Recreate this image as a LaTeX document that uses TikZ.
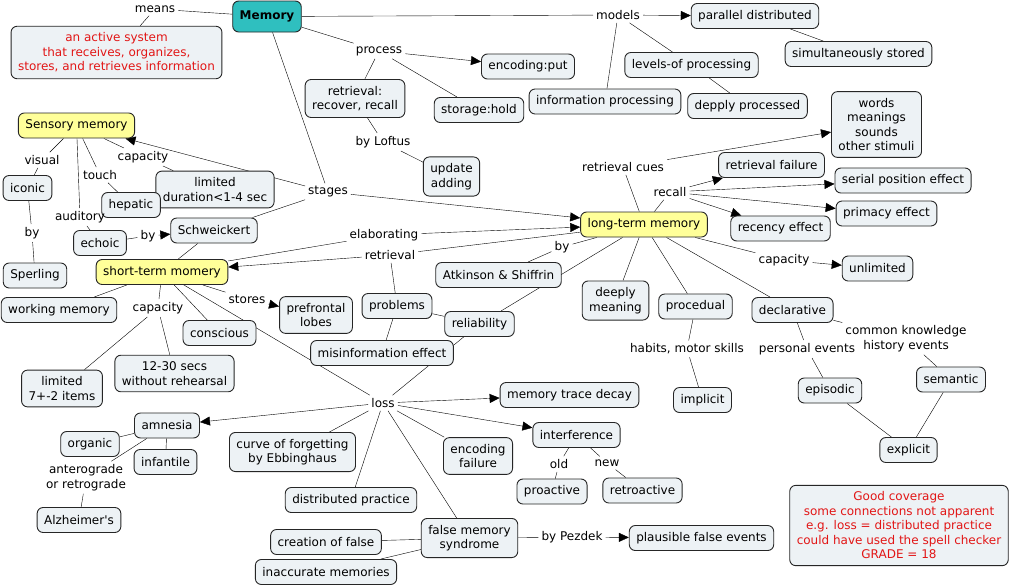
\documentclass[tikz,border=0pt]{standalone}
\usepackage{fontspec}
\setmainfont{DejaVu Sans}
\usepackage{tikz}
\usetikzlibrary{arrows.meta,backgrounds}
\definecolor{boxfill}{RGB}{237,242,245}
\definecolor{memteal}{RGB}{47,191,191}
\definecolor{stageyellow}{RGB}{255,255,153}
\definecolor{notered}{RGB}{226,22,22}

\begin{document}
\begin{tikzpicture}[x=1pt,y=-1pt,
  every node/.style={font=\fontsize{12}{14.5}\selectfont},
  cpt/.style={draw=black!85, line width=0.9pt, rounded corners=6pt, fill=boxfill,
    align=center, inner xsep=7pt, inner ysep=6.5pt, minimum height=25pt},
  yel/.style={cpt, fill=stageyellow},
  lnk/.style={inner sep=3pt, align=center},
  arr/.style={-{Triangle[length=10pt,width=9pt]}}]
\useasboundingbox (0,0) rectangle (1014,587);

% Memory and what it means
\node[cpt, fill=memteal, minimum height=31pt, font=\fontsize{12}{14.5}\selectfont\bfseries] (mem) at (267,16.5) {Memory};
\node[cpt, text=notered] (act) at (116.5,52.5) {an active system\\that receives, organizes,\\stores, and retrieves information};
\node[lnk] (means) at (155,9) {means};

% models
\node[lnk] (models) at (618,15) {models};
\node[cpt] (par) at (755,16) {parallel distributed};
\node[cpt] (sim) at (858.5,54) {simultaneously stored};
\node[cpt] (lev) at (691.5,65) {levels-of processing};
\node[cpt] (inf) at (605,101.5) {information processing};
\node[cpt] (dep) at (747.5,106) {depply processed};

% process
\node[lnk] (process) at (379,51) {process};
\node[cpt] (enc) at (528,66.5) {encoding:put};
\node[cpt] (sto) at (479,110) {storage:hold};
\node[cpt] (ret) at (355,98.5) {retrieval:\\recover, recall};
\node[lnk] (byloftus) at (383,142) {by Loftus};
\node[cpt] (upd) at (451.5,176.5) {update\\adding};

% stages
\node[lnk] (stages) at (328,192) {stages};

% Sensory memory
\node[yel] (sen) at (76.5,125.5) {Sensory memory};
\node[lnk] (visual) at (42,160) {visual};
\node[lnk] (touch) at (100,175) {touch};
\node[lnk] (capsen) at (143,157) {capacity};
\node[cpt] (ico) at (27.5,188) {iconic};
\node[cpt] (lim) at (215,189.5) {limited\\duration<1-4 sec};
\node[cpt] (hep) at (131,205) {hepatic};
\node[lnk] (aud) at (80,217) {auditory};
\node[cpt] (ech) at (100,243) {echoic};
\node[lnk] (byech) at (148,236) {by};
\node[cpt] (sch) at (214,230.5) {Schweickert};
\node[lnk] (byico) at (32,233) {by};
\node[cpt] (spe) at (35,275.5) {Sperling};

% short-term memory
\node[yel] (stm) at (162,272) {short-term momery};
\node[cpt] (wor) at (59,310) {working memory};
\node[lnk] (capstm) at (158,308) {capacity};
\node[cpt] (con) at (219.5,333) {conscious};
\node[lnk] (stores) at (247,299) {stores};
\node[cpt] (pre) at (316,315) {prefrontal\\lobes};
\node[cpt] (sev) at (62,388.5) {limited\\7+-2 items};
\node[cpt] (twe) at (174.5,373.5) {12-30 secs\\without rehearsal};
\node[lnk] (elab) at (384,235) {elaborating};
\node[lnk] (retl) at (390,255) {retrieval};
\node[cpt] (pro) at (397,306) {problems};
\node[cpt] (rel) at (479.5,324) {reliability};
\node[cpt] (mis) at (382,353) {misinformation effect};

% long-term memory
\node[yel] (ltm) at (644,224.5) {long-term memory};
\node[lnk] (byatk) at (562,247) {by};
\node[cpt] (atk) at (498.5,275) {Atkinson \& Shiffrin};
\node[lnk] (cues) at (623,167) {retrieval cues};
\node[cpt] (wds) at (876.5,124.5) {words\\meanings\\sounds\\other stimuli};
\node[lnk] (recall) at (670,192) {recall};
\node[cpt] (rf) at (771.5,165) {retrieval failure};
\node[cpt] (ser) at (903,180.5) {serial position effect};
\node[cpt] (pri) at (886.5,213.5) {primacy effect};
\node[cpt] (rec) at (780.5,228.5) {recency effect};
\node[lnk] (capltm) at (784,260) {capacity};
\node[cpt] (unl) at (877.5,268.5) {unlimited};
\node[cpt] (dee) at (615.5,300.5) {deeply\\meaning};
\node[cpt] (prc) at (695.5,306.5) {procedual};
\node[cpt] (dec) at (792.5,310) {declarative};
\node[lnk] (habits) at (687,349) {habits, motor skills};
\node[cpt] (imp) at (702.5,400) {implicit};
\node[lnk] (pers) at (807,349) {personal events};
\node[lnk] (comm) at (906,338.5) {common knowledge\\history events};
\node[cpt] (epi) at (830,390.5) {episodic};
\node[cpt] (sem) at (951,379.5) {semantic};
\node[cpt] (exp) at (908.5,450) {explicit};

% loss
\node[lnk] (loss) at (383,403) {loss};
\node[cpt] (mtd) at (569.5,395) {memory trace decay};
\node[cpt] (itf) at (576.5,435) {interference};
\node[cpt] (ef) at (478,456) {encoding\\failure};
\node[lnk] (old) at (559,464) {old};
\node[lnk] (new) at (607,463) {new};
\node[cpt] (prv) at (552,491.5) {proactive};
\node[cpt] (rtv) at (642.5,490.5) {retroactive};
\node[cpt] (amn) at (167,425.5) {amnesia};
\node[cpt] (org) at (90,444) {organic};
\node[cpt] (inft) at (165.5,462) {infantile};
\node[lnk] (ante) at (86,477.5) {anterograde\\or retrograde};
\node[cpt] (alz) at (79,520) {Alzheimer\textquotesingle s};
\node[cpt] (cur) at (292.5,452) {curve of forgetting\\by Ebbinghaus};
\node[cpt] (dis) at (351,500) {distributed practice};
\node[cpt] (fms) at (469.5,538) {false memory\\syndrome};
\node[lnk] (bypez) at (572,537) {by Pezdek};
\node[cpt] (pla) at (701.5,538) {plausible false events};
\node[cpt] (cre) at (326,542) {creation of false};
\node[cpt] (ina) at (326,572) {inaccurate memories};

% grading note
\node[cpt, text=notered] (note) at (899,525.5) {Good coverage\\some connections not apparent\\e.g. loss = distributed practice\\could have used the spell checker\\GRADE = 18};

% connections, under the boxes
\begin{scope}[on background layer, line width=0.8pt]
\fill[white] (0,0) rectangle (1014,587);
\draw (mem) -- (means); \draw (means) -- (act);
\draw (mem) -- (models); \draw[arr] (models) -- (par);
\draw (models) -- (lev); \draw (models) -- (inf);
\draw (par) -- (sim); \draw (lev) -- (dep);
\draw (mem) -- (process); \draw[arr] (process) -- (enc);
\draw (process) -- (sto); \draw (process) -- (ret);
\draw (ret) -- (byloftus); \draw (byloftus) -- (upd);
\draw (mem) -- (stages); \draw[arr] (stages) -- (sen);
\draw (stages) -- (sch); \draw[arr] (stages) -- (ltm);

\draw (sen) -- (visual); \draw (visual) -- (ico);
\draw (ico) -- (byico); \draw (byico) -- (spe);
\draw (sen) -- (touch); \draw (touch) -- (hep);
\draw (sen) -- (aud); \draw (aud) -- (ech);
\draw (sen) -- (capsen); \draw (capsen) -- (lim);
\draw (ech) -- (byech); \draw[arr] (byech) -- (sch);
\draw (sch) -- (stm);

\draw (stm) -- (wor);
\draw (stm) -- (capstm); \draw (capstm) -- (sev); \draw (capstm) -- (twe);
\draw (stm) -- (con);
\draw (stm) -- (stores); \draw[arr] (stores) -- (pre);
\draw (stm) -- (loss);
\draw (stm) -- (elab); \draw[arr] (elab) -- (ltm);
\draw (ltm) -- (retl); \draw[arr] (retl) -- (stm);
\draw (retl) -- (pro);
\draw (pro) -- (rel); \draw (pro) -- (mis);
\draw (loss) -- (rel); \draw (rel) -- (ltm);

\draw (ltm) -- (byatk); \draw (byatk) -- (atk);
\draw (ltm) -- (cues); \draw[arr] (cues) -- (wds);
\draw (ltm) -- (recall);
\draw[arr] (recall) -- (rf); \draw[arr] (recall) -- (ser);
\draw[arr] (recall) -- (pri); \draw[arr] (recall) -- (rec);
\draw (ltm) -- (capltm); \draw[arr] (capltm) -- (unl);
\draw (ltm) -- (dee); \draw (ltm) -- (prc); \draw (ltm) -- (dec);
\draw (prc) -- (habits); \draw (habits) -- (imp);
\draw (dec) -- (pers); \draw (pers) -- (epi);
\draw (dec) -- (comm); \draw (comm) -- (sem);
\draw (epi) -- (exp); \draw (sem) -- (exp);

\draw[arr] (loss) -- (amn); \draw[arr] (loss) -- (mtd); \draw[arr] (loss) -- (itf);
\draw (loss) -- (cur); \draw (loss) -- (dis);
\draw (loss) -- (fms); \draw (loss) -- (ef);
\draw (itf) -- (old); \draw (old) -- (prv);
\draw (itf) -- (new); \draw (new) -- (rtv);
\draw (amn) -- (org); \draw (amn) -- (inft);
\draw (amn) -- (ante); \draw (ante) -- (alz);
\draw (fms) -- (cre); \draw (fms) -- (ina);
\draw (fms) -- (bypez); \draw[arr] (bypez) -- (pla);
\end{scope}
\end{tikzpicture}
\end{document}
